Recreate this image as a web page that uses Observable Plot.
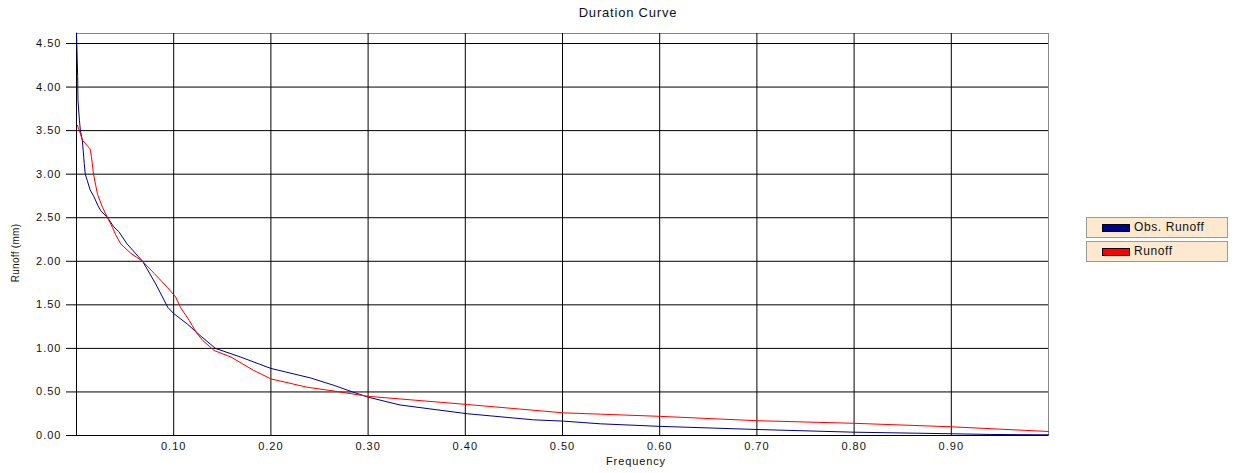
<!DOCTYPE html>
<html>
<head>
<meta charset="utf-8">
<script src="https://cdn.jsdelivr.net/npm/d3@7"></script>
<script src="https://cdn.jsdelivr.net/npm/@observablehq/plot@0.6"></script>
<style>
  body { margin: 0; background: #fff; font-family: "Liberation Sans", Arial, sans-serif; }
  #wrap { position: relative; width: 1234px; height: 473px; overflow: hidden; }
  #chart { position: absolute; left: 0; top: 0; }
  #chart svg text { letter-spacing: 1px; }
  .lbl { position: absolute; font-size: 11px; color: #111; letter-spacing: 0.9px; white-space: nowrap; }
  .leg { position: absolute; left: 1086px; width: 142px; height: 21px; background: #fde9d0; border: 1px solid #9a9a9a; box-sizing: border-box; }
  .leg .sw { position: absolute; left: 15px; top: 6px; width: 28px; height: 8px; border: 1px solid #000; box-sizing: border-box; }
  .leg .tx { position: absolute; left: 47px; top: 2px; font-size: 12px; letter-spacing: 0.6px; color: #111; }
</style>
</head>
<body>
<div id="wrap">
  <div id="chart"></div>
  <div class="lbl" id="title" style="left:0;width:1256px;text-align:center;top:5px;font-size:13px;letter-spacing:0.8px;">Duration Curve</div>
  <div class="lbl" id="xlab" style="left:0;width:1272px;text-align:center;top:455px;">Frequency</div>
  <div class="lbl" id="ylab" style="left:15px;top:253px;transform:translate(-50%,-50%) rotate(-90deg);font-size:10px;letter-spacing:0.3px;">Runoff (mm)</div>
  <div class="leg" style="top:217px;"><div class="sw" style="background:#00008b"></div><div class="tx">Obs. Runoff</div></div>
  <div class="leg" style="top:241px;"><div class="sw" style="background:#ff0000"></div><div class="tx">Runoff</div></div>
</div>
<script>
const seriesNames = ["Obs. Runoff", "Runoff"];
const seriesColors = ["#00008b", "#ff0000"];

const obsFreq = [0, 0.0008, 0.0012, 0.0015, 0.003, 0.004, 0.006, 0.008, 0.009, 0.011, 0.014, 0.018, 0.022, 0.025, 0.032, 0.038, 0.0435, 0.052, 0.064, 0.068, 0.0815, 0.094, 0.10, 0.114, 0.128, 0.143, 0.169, 0.20, 0.241, 0.265, 0.284, 0.30, 0.333, 0.402, 0.47, 0.501, 0.539, 0.60, 0.70, 0.80, 0.90, 0.94, 1.0];
const obsRunoff = [4.62, 4.30, 4.12, 3.85, 3.62, 3.50, 3.39, 3.12, 3.00, 2.93, 2.82, 2.74, 2.64, 2.58, 2.50, 2.40, 2.34, 2.20, 2.05, 2.00, 1.74, 1.47, 1.40, 1.28, 1.14, 1.00, 0.90, 0.77, 0.66, 0.575, 0.50, 0.44, 0.35, 0.25, 0.18, 0.165, 0.134, 0.105, 0.069, 0.038, 0.020, 0.012, 0.008];

const simFreq = [0.001, 0.003, 0.006, 0.014, 0.0154, 0.0175, 0.0216, 0.0267, 0.032, 0.037, 0.040, 0.0455, 0.056, 0.068, 0.080, 0.0935, 0.102, 0.107, 0.116, 0.124, 0.13, 0.1415, 0.159, 0.1825, 0.20, 0.237, 0.265, 0.30, 0.402, 0.501, 0.539, 0.60, 0.70, 0.80, 0.90, 1.0];
const simRunoff = [3.56, 3.50, 3.39, 3.29, 3.20, 3.00, 2.77, 2.62, 2.50, 2.39, 2.31, 2.20, 2.09, 2.00, 1.86, 1.70, 1.59, 1.47, 1.32, 1.17, 1.09, 0.976, 0.90, 0.746, 0.65, 0.555, 0.51, 0.45, 0.356, 0.26, 0.245, 0.22, 0.17, 0.14, 0.10, 0.046];

const xTicks = [0.1, 0.2, 0.3, 0.4, 0.5, 0.6, 0.7, 0.8, 0.9];
const yTicks = [0, 0.5, 1.0, 1.5, 2.0, 2.5, 3.0, 3.5, 4.0, 4.5];

const obs = obsFreq.map((f, i) => ({f, v: obsRunoff[i], s: seriesNames[0]}));
const sim = simFreq.map((f, i) => ({f, v: simRunoff[i], s: seriesNames[1]}));

const chart = Plot.plot({
  width: 1234,
  height: 473,
  marginLeft: 76,
  marginRight: 186,
  marginTop: 33,
  marginBottom: 38,
  style: {fontFamily: '"Liberation Sans", Arial, sans-serif', fontSize: "11px", color: "#111", background: "white"},
  x: {domain: [0, 1]},
  y: {domain: [0, 4.615]},
  marks: [
    Plot.frame({stroke: "#888"}),
    Plot.gridX(xTicks, {stroke: "#000", strokeOpacity: 1}),
    Plot.gridY(yTicks, {stroke: "#000", strokeOpacity: 1}),
    Plot.ruleX([0], {stroke: "#000"}),
    Plot.ruleY([0], {stroke: "#000"}),
    Plot.axisY(yTicks, {tickFormat: d3.format(".2f"), tickSize: 10, tickPadding: 5, label: null, stroke: "#000"}),
    Plot.axisX(xTicks, {tickFormat: d3.format(".2f"), tickSize: 0, tickPadding: 7, label: null}),
    Plot.line(obs, {x: "f", y: "v", stroke: seriesColors[0], strokeWidth: 1}),
    Plot.line(sim, {x: "f", y: "v", stroke: seriesColors[1], strokeWidth: 1})
  ]
});
document.getElementById("chart").appendChild(chart);
</script>
</body>
</html>
